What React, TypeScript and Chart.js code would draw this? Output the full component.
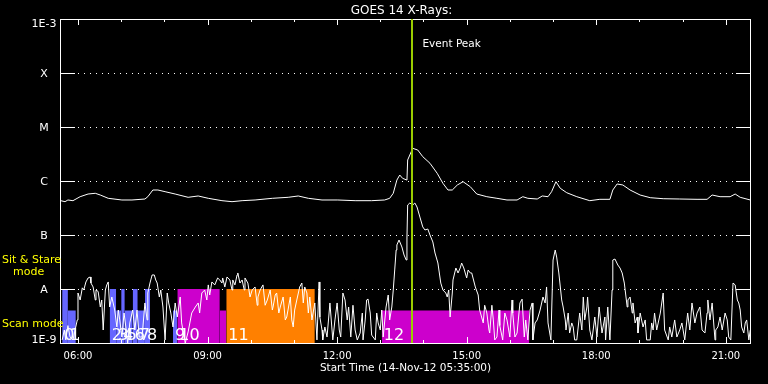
import React, { useEffect, useRef } from "react";
import { Chart, registerables } from "chart.js";

Chart.register(...registerables);

// ---------- text ----------
const chartTitle = "GOES 14 X-Rays:";
const xAxisTitle = "Start Time (14-Nov-12 05:35:00)";
const eventLabel = "Event Peak";
const modeLabelsTop = ["Sit & Stare", "mode"];
const modeLabelBottom = "Scan mode";

// ---------- axes (x in minutes after 05:35, 14-Nov-12) ----------
const xMin = 0;
const xMax = 960;
const xTickMinutes = [25, 205, 385, 565, 745, 925];
const xTickLabels = ["06:00", "09:00", "12:00", "15:00", "18:00", "21:00"];
const xMinorMinutes = [85, 145, 265, 325, 445, 505, 625, 685, 805, 865];
const yTickValues = [1e-9, 1e-8, 1e-7, 1e-6, 1e-5, 1e-4, 1e-3];
const yTickLabels = ["1E-9", "A", "B", "C", "M", "X", "1E-3"];

const eventPeakMinute = 489;

// ---------- GOES long channel (1-8 A), [minute, W/m^2] ----------
const longChannel: [number, number][] = [
  [1, 4.32e-7], [7, 4.14e-7], [11, 4.45e-7], [18, 4.32e-7], [28, 5.12e-7],
  [39, 5.74e-7], [49, 5.92e-7], [56, 5.5e-7], [67, 4.78e-7], [86, 4.45e-7],
  [100, 4.45e-7], [118, 4.64e-7], [122, 5.12e-7], [129, 6.81e-7], [136, 6.81e-7],
  [146, 6.34e-7], [160, 5.74e-7], [178, 4.99e-7], [192, 5.28e-7], [206, 4.78e-7],
  [225, 4.32e-7], [239, 4.14e-7], [253, 4.32e-7], [271, 4.45e-7], [295, 4.78e-7],
  [317, 4.99e-7], [331, 5.28e-7], [345, 4.78e-7], [364, 4.45e-7], [386, 4.45e-7],
  [410, 4.32e-7], [433, 4.32e-7], [451, 4.45e-7], [458, 4.78e-7], [463, 5.92e-7],
  [468, 1.04e-6], [472, 1.29e-6], [476, 1.12e-6], [482, 1.04e-6], [483, 2.45e-6],
  [488, 3.49e-6], [490, 4.03e-6], [497, 3.75e-6], [504, 2.82e-6], [514, 2.13e-6],
  [524, 1.39e-6], [532, 9.06e-7], [539, 6.81e-7], [545, 6.81e-7], [552, 8.43e-7],
  [560, 9.7e-7], [570, 7.84e-7], [579, 5.74e-7], [593, 5.12e-7], [607, 4.78e-7],
  [621, 4.45e-7], [635, 4.45e-7], [643, 5.12e-7], [650, 4.78e-7], [663, 4.64e-7],
  [670, 5.28e-7], [678, 5.12e-7], [683, 6.34e-7], [689, 9.7e-7], [695, 7.33e-7],
  [704, 6.07e-7], [718, 5.12e-7], [736, 4.32e-7], [750, 4.58e-7], [764, 4.58e-7],
  [768, 6.81e-7], [774, 8.8e-7], [782, 8.43e-7], [792, 6.81e-7], [806, 5.5e-7],
  [820, 4.91e-7], [838, 4.7e-7], [861, 4.64e-7], [885, 4.58e-7], [899, 4.58e-7],
  [906, 5.5e-7], [917, 5.12e-7], [931, 5.12e-7], [938, 5.74e-7], [945, 4.99e-7],
  [959, 4.45e-7],
];

// ---------- GOES short channel (0.5-4 A), [minute, W/m^2] ----------
const shortChannel: [number, number][] = [
  [3, 1.14e-9], [6, 1.74e-9], [8, 1.14e-9], [11, 2.1e-9], [14, 1.29e-9], [18, 1.14e-9],
  [21, 1.74e-9], [24, 2.67e-9], [25, 8.43e-9], [28, 6.26e-9], [31, 1.05e-8], [33, 9.58e-9],
  [36, 1.35e-8], [39, 1.6e-8], [42, 1.67e-8], [43, 1.29e-8], [46, 1.09e-8], [49, 6.26e-9],
  [50, 9.58e-9], [53, 9e-9], [56, 4.64e-9], [58, 6.26e-9], [60, 1.74e-9], [63, 9.58e-9],
  [65, 1.19e-8], [67, 1.35e-8], [69, 4.64e-9], [72, 7.11e-9], [76, 4.08e-9], [79, 1.98e-9],
  [81, 4.08e-9], [83, 2.67e-9], [86, 1.29e-9], [89, 3.59e-9], [92, 1.74e-9], [94, 1.0e-9],
  [97, 2.35e-9], [101, 4.08e-9], [104, 1.74e-9], [107, 4.08e-9], [110, 1.29e-9], [114, 1.29e-9],
  [118, 5.51e-9], [121, 2.67e-9], [122, 8.43e-9], [125, 1.29e-8], [128, 1.82e-8], [131, 1.82e-8],
  [133, 1.47e-8], [135, 1.29e-8], [138, 7.11e-9], [140, 9.58e-9], [143, 4.64e-9], [146, 1.14e-9],
  [149, 8.43e-9], [151, 5.51e-9], [154, 3.59e-9], [157, 1.98e-9], [160, 5.51e-9], [163, 3.03e-9],
  [167, 7.11e-9], [169, 2.35e-9], [174, 1.0e-9], [178, 1.6e-9], [183, 3.59e-9], [188, 4.64e-9],
  [192, 5.51e-9], [194, 3.59e-9], [197, 8.43e-9], [201, 9.58e-9], [204, 6.26e-9], [206, 1.19e-8],
  [208, 7.74e-9], [211, 1.35e-8], [215, 1.19e-8], [219, 1.6e-8], [222, 1.47e-8], [225, 1.29e-8],
  [226, 1.6e-8], [229, 1.09e-8], [232, 1.67e-8], [236, 1.47e-8], [239, 9.58e-9], [240, 1.47e-8],
  [243, 1.19e-8], [246, 1.82e-8], [247, 1.98e-8], [250, 1.29e-8], [253, 1.47e-8], [256, 9.58e-9],
  [257, 1.6e-8], [261, 1.29e-8], [264, 7.11e-9], [267, 9.58e-9], [271, 1.09e-8], [274, 5.0e-9],
  [275, 7.11e-9], [278, 9.58e-9], [282, 1.19e-8], [285, 5.0e-9], [288, 6.26e-9], [292, 9.58e-9],
  [295, 4.08e-9], [296, 4.64e-9], [299, 7.74e-9], [301, 8.43e-9], [304, 3.59e-9], [306, 4.64e-9],
  [310, 7.11e-9], [313, 2.67e-9], [315, 3.03e-9], [320, 7.11e-9], [322, 2.67e-9], [324, 1.98e-9],
  [326, 4.08e-9], [329, 6.26e-9], [333, 1.09e-8], [336, 1.29e-8], [338, 5.51e-9], [340, 1.09e-8],
  [343, 8.43e-9], [345, 3.59e-9], [347, 7.11e-9], [350, 2.67e-9], [354, 5.51e-9], [357, 1.14e-9],
  [358, 2.67e-9], [360, 1.35e-8], [361, 3.03e-9], [364, 1.74e-9], [365, 1.14e-9], [368, 1.98e-9],
  [371, 1.29e-9], [375, 5.51e-9], [379, 1.14e-9], [382, 2.67e-9], [385, 5.51e-9], [388, 1.74e-9],
  [390, 1.29e-9], [393, 8.43e-9], [396, 6.26e-9], [399, 2.67e-9], [401, 4.64e-9], [404, 1.29e-9],
  [407, 5.0e-9], [410, 1.74e-9], [413, 1.14e-9], [417, 1.53e-9], [420, 3.59e-9], [421, 1.14e-9],
  [424, 2.67e-9], [426, 6.26e-9], [428, 6.5e-9], [431, 3.59e-9], [433, 1.4e-9], [438, 1.14e-9],
  [440, 3.59e-9], [442, 2.35e-9], [445, 1.74e-9], [447, 4.08e-9], [449, 1.29e-9], [453, 4.64e-9],
  [456, 7.74e-9], [458, 2.67e-9], [461, 4.64e-9], [463, 9.58e-9], [465, 2.25e-8], [467, 5.27e-8],
  [468, 6.53e-8], [471, 8.07e-8], [475, 6.0e-8], [478, 4.26e-8], [481, 3.44e-8], [482, 8.8e-8],
  [483, 3.59e-7], [486, 3.91e-7], [490, 3.59e-7], [493, 3.91e-7], [496, 3.3e-7], [500, 2.15e-7],
  [504, 1.41e-7], [507, 1.24e-7], [511, 1.29e-7], [514, 1.0e-7], [518, 7.42e-8], [521, 4.64e-8],
  [525, 3.03e-8], [529, 1.29e-8], [532, 9.58e-9], [536, 8.43e-9], [538, 7.11e-9], [540, 9.58e-9],
  [542, 3.03e-9], [545, 8.43e-9], [546, 1.47e-8], [550, 2.45e-8], [553, 1.98e-8], [556, 2.45e-8],
  [558, 3.03e-8], [561, 2.45e-8], [565, 1.6e-8], [567, 2.25e-8], [570, 1.98e-8], [572, 1.98e-8],
  [577, 1.09e-8], [581, 7.74e-9], [583, 4.08e-9], [588, 2.35e-9], [590, 5.0e-9], [593, 3.59e-9],
  [596, 1.74e-9], [597, 1.53e-9], [600, 5.0e-9], [602, 2.67e-9], [604, 1.14e-9], [607, 1.29e-9],
  [610, 4.08e-9], [611, 2.1e-9], [615, 1.14e-9], [618, 3.59e-9], [621, 2.67e-9], [625, 1.29e-9],
  [628, 6.26e-9], [629, 3.59e-9], [632, 1.29e-9], [635, 1.53e-9], [639, 5.51e-9], [642, 6.5e-9],
  [645, 1.29e-9], [647, 2.67e-9], [650, 1.14e-9], [653, 4.08e-9], [656, 5.51e-9], [657, 1.14e-9],
  [660, 2.35e-9], [663, 2.67e-9], [667, 4.08e-9], [671, 7.11e-9], [674, 5.51e-9], [676, 1.09e-8],
  [678, 2.35e-9], [682, 1.14e-9], [685, 3.44e-8], [688, 5.27e-8], [690, 3.91e-8], [693, 1.98e-8],
  [697, 6.26e-9], [699, 4.64e-9], [702, 2.67e-9], [703, 1.74e-9], [706, 3.59e-9], [708, 1.53e-9],
  [711, 2.35e-9], [713, 1.98e-9], [715, 1.14e-9], [718, 1.14e-9], [722, 3.59e-9], [725, 1.74e-9],
  [727, 7.11e-9], [729, 2.67e-9], [732, 4.64e-9], [733, 7.11e-9], [736, 1.74e-9], [739, 1.14e-9],
  [743, 3.03e-9], [746, 1.29e-9], [749, 4.64e-9], [753, 1.53e-9], [757, 3.03e-9], [758, 1.14e-9],
  [761, 4.64e-9], [764, 1.14e-9], [767, 9.58e-9], [768, 3.44e-8], [771, 3.59e-8], [775, 2.78e-8],
  [778, 2.45e-8], [781, 1.98e-8], [784, 1.29e-8], [788, 4.64e-9], [789, 6.26e-9], [792, 7.11e-9],
  [795, 3.59e-9], [796, 5.51e-9], [799, 2.35e-9], [802, 3.03e-9], [803, 1.53e-9], [806, 3.59e-9],
  [810, 1.98e-9], [813, 2.67e-9], [815, 1.14e-9], [820, 1.14e-9], [822, 2.35e-9], [824, 1.74e-9],
  [826, 3.59e-9], [829, 1.74e-9], [834, 3.59e-9], [838, 8.43e-9], [840, 1.74e-9], [845, 1.14e-9],
  [847, 1.98e-9], [850, 1.29e-9], [854, 2.67e-9], [857, 1.29e-9], [861, 1.74e-9], [864, 2.35e-9],
  [868, 1.14e-9], [872, 3.59e-9], [875, 1.74e-9], [878, 5.51e-9], [882, 2.35e-9], [885, 3.59e-9],
  [889, 4.64e-9], [892, 1.74e-9], [896, 1.53e-9], [899, 3.59e-9], [900, 6.26e-9], [903, 2.67e-9],
  [906, 5.51e-9], [910, 1.14e-9], [911, 1.74e-9], [914, 1.98e-9], [917, 3.03e-9], [920, 1.74e-9],
  [924, 3.59e-9], [927, 2.67e-9], [929, 1.29e-9], [932, 1.14e-9], [935, 1.29e-8], [938, 1.19e-8],
  [941, 6.26e-9], [943, 5.51e-9], [945, 4.08e-9], [947, 1.98e-9], [950, 1.53e-9], [952, 2.35e-9],
  [954, 2.67e-9], [957, 1.14e-9], [959, 1.74e-9],
];

// ---------- observation blocks ----------
const obsStart = [3, 11, 69, 78, 85, 90, 101, 108, 118, 157, 163, 222, 231, 447];
const obsEnd = [11, 22, 78, 85, 90, 101, 108, 118, 125, 163, 222, 231, 354, 652];
const obsLevel = [1e-8, 4e-9, 1e-8, 4e-9, 1e-8, 4e-9, 1e-8, 4e-9, 1e-8, 4e-9, 1e-8, 4e-9, 1e-8, 4e-9];
const obsGroup = [0, 0, 0, 0, 0, 0, 0, 0, 0, 0, 1, 1, 2, 1];
const obsLabel = ["0", "1", "2", "3", "4", "5", "6", "7", "8", "9", "10", "", "11", "12"];
const groupColors = ["#6666ff", "#cc00cc", "#ff8000"];

const FONT = "'DejaVu Sans', sans-serif";

const decorPlugin = {
  id: "goesDecor",
  beforeDatasetsDraw(chart: any) {
    const { ctx, chartArea: a, scales } = chart;
    const ys = scales.y;
    ctx.save();
    ctx.strokeStyle = "#ffffff";
    ctx.lineWidth = 1;
    ctx.setLineDash([1, 5]);
    for (let i = 1; i < yTickValues.length - 1; i++) {
      const py = Math.round(ys.getPixelForValue(yTickValues[i])) + 0.5;
      ctx.beginPath();
      ctx.moveTo(a.left, py);
      ctx.lineTo(a.right, py);
      ctx.stroke();
    }
    ctx.restore();
  },
  afterDatasetsDraw(chart: any) {
    const { ctx, chartArea: a, scales } = chart;
    const xs = scales.x;
    const ys = scales.y;
    ctx.save();
    ctx.strokeStyle = "#ffffff";
    ctx.lineWidth = 1;
    ctx.setLineDash([]);

    // y ticks, both sides
    for (const v of yTickValues) {
      const py = Math.round(ys.getPixelForValue(v)) + 0.5;
      ctx.beginPath();
      ctx.moveTo(a.left, py);
      ctx.lineTo(a.left + 15, py);
      ctx.moveTo(a.right - 15, py);
      ctx.lineTo(a.right, py);
      ctx.stroke();
    }
    // x ticks, top and bottom
    const drawXTick = (m: number, len: number) => {
      const px = Math.round(xs.getPixelForValue(m)) + 0.5;
      ctx.beginPath();
      ctx.moveTo(px, a.top);
      ctx.lineTo(px, a.top + len);
      ctx.moveTo(px, a.bottom);
      ctx.lineTo(px, a.bottom - len);
      ctx.stroke();
    };
    xTickMinutes.forEach((m) => drawXTick(m, 6));
    xMinorMinutes.forEach((m) => drawXTick(m, 3));

    // frame
    ctx.strokeRect(a.left + 0.5, a.top + 0.5, a.right - a.left - 1, a.bottom - a.top);

    // block numbers
    ctx.fillStyle = "#ffffff";
    ctx.font = `16px ${FONT}`;
    ctx.textAlign = "left";
    ctx.textBaseline = "alphabetic";
    obsStart.forEach((s, i) => {
      if (!obsLabel[i]) return;
      ctx.fillText(obsLabel[i], xs.getPixelForValue(s) + 2, a.bottom - 3);
    });

    // event peak line
    const ex = xs.getPixelForValue(eventPeakMinute);
    ctx.fillStyle = "#9acd00";
    ctx.fillRect(Math.round(ex) - 1, a.top, 2, a.bottom - a.top);

    ctx.fillStyle = "#ffffff";
    ctx.font = `10.5px ${FONT}`;
    ctx.fillText(eventLabel, ex + 10.5, a.top + 28);

    // title
    ctx.font = `12px ${FONT}`;
    ctx.textAlign = "center";
    ctx.fillText(chartTitle, (a.left + a.right) / 2 - 4, a.top - 5);

    // x tick labels + title
    ctx.font = `10px ${FONT}`;
    xTickMinutes.forEach((m, i) => {
      ctx.fillText(xTickLabels[i], xs.getPixelForValue(m), a.bottom + 16);
    });
    ctx.font = `10.5px ${FONT}`;
    ctx.fillText(xAxisTitle, (a.left + a.right) / 2, a.bottom + 28);

    // y tick labels
    ctx.font = `11px ${FONT}`;
    yTickValues.forEach((v, i) => {
      const py = ys.getPixelForValue(v);
      const base = Math.min(Math.max(py + 4, a.top + 8), a.bottom);
      ctx.fillText(yTickLabels[i], a.left - 16, base);
    });

    // mode labels
    ctx.fillStyle = "#ffff00";
    ctx.textAlign = "left";
    ctx.font = `11px ${FONT}`;
    ctx.fillText(modeLabelsTop[0], 2, a.bottom - 80);
    ctx.fillText(modeLabelsTop[1], 13, a.bottom - 68);
    ctx.fillText(modeLabelBottom, 2, a.bottom - 16);
    ctx.restore();
  },
};

export default function App() {
  const ref = useRef<HTMLCanvasElement | null>(null);

  useEffect(() => {
    document.body.style.margin = "0";
    document.body.style.background = "#000000";
    const canvas = ref.current;
    if (!canvas) return;

    const blockSets = obsStart.map((s, i) => ({
      type: "line" as const,
      data: [
        { x: s, y: obsLevel[i] },
        { x: obsEnd[i], y: obsLevel[i] },
      ],
      borderColor: "rgba(0,0,0,0)",
      borderWidth: 1,
      backgroundColor: groupColors[obsGroup[i]],
      fill: "start",
      pointRadius: 0,
      order: 3,
    }));

    const chart = new Chart(canvas, {
      type: "line",
      data: {
        datasets: [
          ...blockSets,
          {
            type: "line",
            label: "long",
            data: longChannel.map(([x, y]) => ({ x, y })),
            borderColor: "#ffffff",
            borderWidth: 1,
            pointRadius: 0,
            fill: false,
            tension: 0,
            order: 1,
          },
          {
            type: "line",
            label: "short",
            data: shortChannel.map(([x, y]) => ({ x, y })),
            borderColor: "#ffffff",
            borderWidth: 1,
            pointRadius: 0,
            fill: false,
            tension: 0,
            order: 1,
          },
        ] as any,
      },
      options: {
        responsive: false,
        maintainAspectRatio: false,
        animation: false,
        events: [],
        layout: { padding: { left: 60, right: 17, top: 19, bottom: 41 } },
        scales: {
          x: { type: "linear", min: xMin, max: xMax, display: false },
          y: { type: "logarithmic", min: 1e-9, max: 1e-3, display: false },
        },
        plugins: {
          legend: { display: false },
          tooltip: { enabled: false },
          title: { display: false },
        },
      },
      plugins: [decorPlugin],
    });
    return () => chart.destroy();
  }, []);

  return (
    <canvas
      ref={ref}
      width={768}
      height={384}
      style={{ display: "block", background: "#000000" }}
    />
  );
}
